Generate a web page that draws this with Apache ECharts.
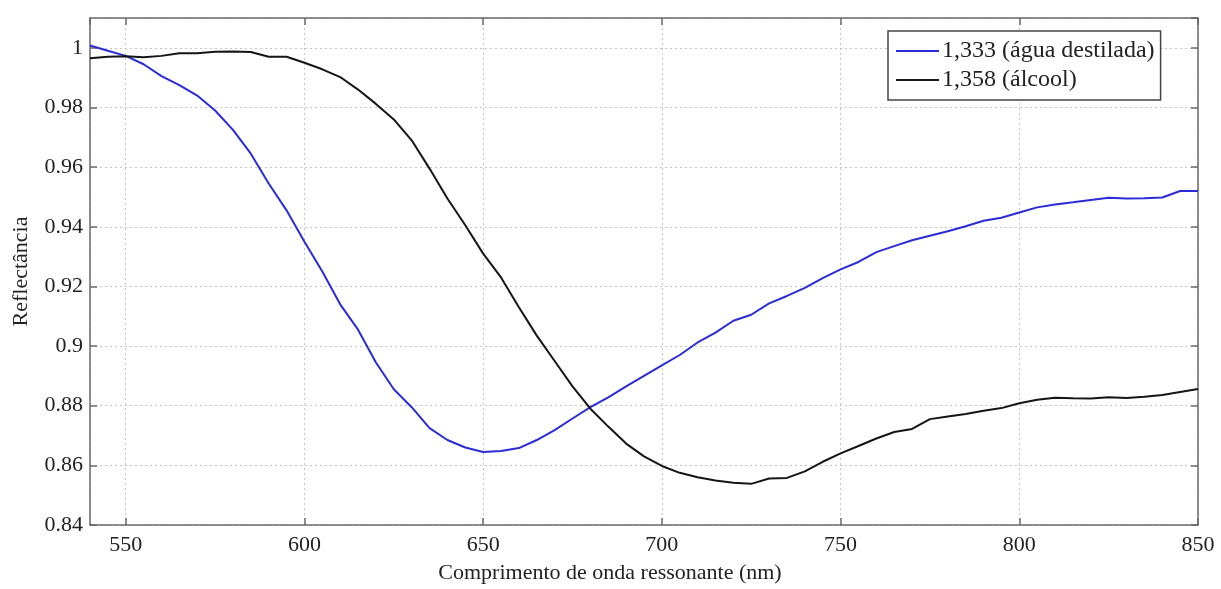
<!DOCTYPE html>
<html>
<head>
<meta charset="utf-8">
<script src="https://cdn.jsdelivr.net/npm/echarts@6/dist/echarts.min.js"></script>
<style>
html,body{margin:0;padding:0;background:#fff;}
#c{width:1221px;height:589px;}
</style>
</head>
<body>
<div id="c"></div>
<script>
// Wavelength (nm)
var wavelengths = [540,545,550,555,560,565,570,575,580,585,590,595,600,605,610,615,620,625,630,635,640,645,650,655,660,665,670,675,680,685,690,695,700,705,710,715,720,725,730,735,740,745,750,755,760,765,770,775,780,785,790,795,800,805,810,815,820,825,830,835,840,845,850];
// 1,333 (água destilada)
var agua = [1.0008,0.9990,0.9973,0.9945,0.9905,0.9875,0.9840,0.9790,0.9725,0.9645,0.9545,0.9455,0.9350,0.9250,0.9140,0.9055,0.8945,0.8855,0.8795,0.8725,0.8685,0.8660,0.8645,0.8648,0.8658,0.8685,0.8718,0.8757,0.8795,0.8828,0.8865,0.8900,0.8935,0.8970,0.9012,0.9045,0.9085,0.9105,0.9143,0.9168,0.9195,0.9228,0.9257,0.9282,0.9315,0.9335,0.9355,0.9370,0.9385,0.9402,0.9420,0.9430,0.9448,0.9465,0.9475,0.9482,0.9490,0.9497,0.9495,0.9496,0.9498,0.9520,0.9520];
// 1,358 (álcool)
var alcool = [0.9965,0.9970,0.9972,0.9968,0.9973,0.9982,0.9982,0.9987,0.9988,0.9986,0.9970,0.9970,0.9950,0.9928,0.9902,0.9860,0.9812,0.9760,0.9690,0.9595,0.9495,0.9405,0.9310,0.9230,0.9130,0.9035,0.8950,0.8865,0.8790,0.8730,0.8673,0.8630,0.8598,0.8575,0.8560,0.8549,0.8542,0.8538,0.8556,0.8558,0.8580,0.8612,0.8640,0.8665,0.8690,0.8712,0.8722,0.8755,0.8764,0.8772,0.8783,0.8792,0.8808,0.8820,0.8827,0.8825,0.8824,0.8828,0.8826,0.8830,0.8836,0.8846,0.8856];
var seriesNames = ['1,333 (água destilada)', '1,358 (álcool)'];
var xTitle = 'Comprimento de onda ressonante (nm)';
var yTitle = 'Reflectância';

function pairs(xs, ys){ return xs.map(function(x,i){ return [x, ys[i]]; }); }

var FONT = 'Liberation Serif';
var axisColor = '#6a6a6a';
var gridLine = {show:true, lineStyle:{color:'#c4c4c4', width:1, type:[2,3]}};

var chart = echarts.init(document.getElementById('c'), null, {renderer:'canvas'});
chart.setOption({
  animation:false,
  backgroundColor:'#fff',
  grid:{left:90, right:23, top:18, bottom:56, containLabel:false},
  legend:{
    left:888, top:31, orient:'vertical',
    padding:[8,6,8,8], itemGap:5, itemWidth:43, itemHeight:2, icon:'rect',
    backgroundColor:'#fff', borderColor:'#444', borderWidth:1.5,
    textStyle:{fontFamily:FONT, fontSize:24, color:'#222', padding:[0,0,0,-2]},
    data:seriesNames
  },
  xAxis:[{
    type:'value', min:540, max:850, minInterval:50, maxInterval:50,
    name:xTitle, nameLocation:'middle', nameGap:37,
    nameTextStyle:{fontFamily:FONT, fontSize:22, color:'#222', padding:[0,68,0,0]},
    axisLine:{show:true, lineStyle:{color:axisColor, width:1.5}},
    axisTick:{show:true, inside:true, length:7, lineStyle:{color:axisColor, width:1.5}},
    axisLabel:{fontFamily:FONT, fontSize:22, color:'#222', margin:9, showMinLabel:false},
    splitLine:gridLine
  },{
    type:'value', position:'top', min:540, max:850, minInterval:50, maxInterval:50,
    axisLine:{show:true, lineStyle:{color:axisColor, width:1.5}},
    axisTick:{show:true, inside:true, length:7, lineStyle:{color:axisColor, width:1.5}},
    axisLabel:{show:false}, splitLine:{show:false}
  }],
  yAxis:[{
    type:'value', min:0.84, max:1.01, interval:0.02,
    name:yTitle, nameLocation:'middle', nameGap:58,
    nameTextStyle:{fontFamily:FONT, fontSize:22, color:'#222'},
    axisLine:{show:true, lineStyle:{color:axisColor, width:1.5}},
    axisTick:{show:true, inside:true, length:7, lineStyle:{color:axisColor, width:1.5}},
    axisLabel:{fontFamily:FONT, fontSize:22, color:'#222', margin:7, showMaxLabel:false},
    splitLine:gridLine
  },{
    type:'value', position:'right', min:0.84, max:1.01, interval:0.02,
    axisLine:{show:true, lineStyle:{color:axisColor, width:1.5}},
    axisTick:{show:true, inside:true, length:7, lineStyle:{color:axisColor, width:1.5}},
    axisLabel:{show:false}, splitLine:{show:false}
  }],
  series:[{
    name:seriesNames[0], type:'line', symbol:'none', smooth:false,
    lineStyle:{color:'#2b2bd8', width:2}, itemStyle:{color:'#2b2bd8'},
    data:pairs(wavelengths, agua)
  },{
    name:seriesNames[1], type:'line', symbol:'none', smooth:false,
    lineStyle:{color:'#151515', width:2}, itemStyle:{color:'#151515'},
    data:pairs(wavelengths, alcool)
  }]
});
</script>
</body>
</html>
